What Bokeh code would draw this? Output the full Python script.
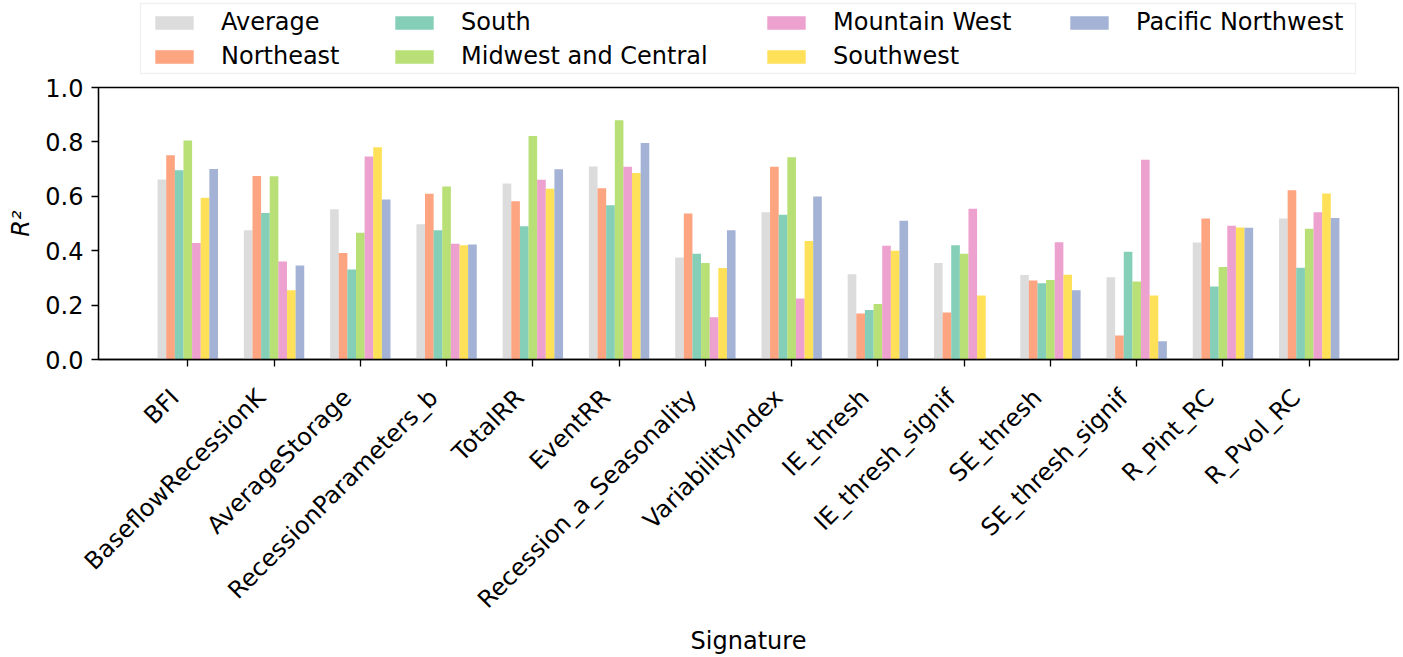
import math
from bokeh.plotting import figure
from bokeh.layouts import column
from bokeh.models import (Range1d, Legend, LegendItem, ColumnDataSource,
                          FixedTicker, LinearAxis, BoxAnnotation)
from bokeh.transform import dodge
from bokeh.embed import file_html
from bokeh.resources import INLINE

signatures = ["BFI", "BaseflowRecessionK", "AverageStorage", "RecessionParameters_b",
              "TotalRR", "EventRR", "Recession_a_Seasonality", "VariabilityIndex",
              "IE_thresh", "IE_thresh_signif", "SE_thresh", "SE_thresh_signif",
              "R_Pint_RC", "R_Pvol_RC"]

average = [0.662, 0.475, 0.552, 0.497, 0.647, 0.710, 0.375, 0.541, 0.313, 0.355, 0.311, 0.302, 0.430, 0.518]
northeast = [0.751, 0.675, 0.392, 0.609, 0.582, 0.630, 0.537, 0.709, 0.169, 0.173, 0.290, 0.088, 0.518, 0.622]
south = [0.696, 0.539, 0.331, 0.475, 0.490, 0.567, 0.389, 0.532, 0.182, 0.420, 0.280, 0.396, 0.268, 0.337]
midwest_central = [0.805, 0.674, 0.466, 0.636, 0.822, 0.880, 0.355, 0.744, 0.204, 0.389, 0.292, 0.287, 0.340, 0.481]
mountain_west = [0.428, 0.360, 0.746, 0.426, 0.661, 0.709, 0.155, 0.224, 0.418, 0.554, 0.431, 0.734, 0.492, 0.541]
southwest = [0.595, 0.255, 0.780, 0.420, 0.628, 0.686, 0.336, 0.436, 0.400, 0.235, 0.312, 0.235, 0.485, 0.610]
pacific_northwest = [0.700, 0.346, 0.588, 0.423, 0.699, 0.796, 0.475, 0.599, 0.510, float("nan"), 0.255, 0.067, 0.484, 0.520]

series_names = ["Average", "Northeast", "South", "Midwest and Central",
                "Mountain West", "Southwest", "Pacific Northwest"]
series_values = [average, northeast, south, midwest_central,
                 mountain_west, southwest, pacific_northwest]
series_colors = ["#d3d3d3", "#fc8d62", "#66c2a5", "#a6d854", "#e78ac3", "#ffd92f", "#8da0cb"]

y_ticks = [0.0, 0.2, 0.4, 0.6, 0.8, 1.0]

FONT = "DejaVu Sans"
FS = "24px"
MARGIN_X = 1.035     # x margin around the first/last group centre
LABEL_SHIFT = 0.15   # shift of the rotated tick labels (group units)
W = 1403
LEG_H = 74
FRAME_L, FRAME_R = 98, 1398

n_sig = len(signatures)
positions = list(range(n_sig))

data = {"signature": signatures, "pos": positions}
for name, vals in zip(series_names, series_values):
    data[name] = vals
source = ColumnDataSource(data)

# ---------------- main chart ----------------
p = figure(
    x_range=Range1d(-MARGIN_X, n_sig - 1 + MARGIN_X),
    y_range=Range1d(0, 1.0),
    width=W, height=657 - LEG_H,
    min_border_left=FRAME_L, min_border_right=W - FRAME_R,
    min_border_top=87 - LEG_H, min_border_bottom=286,
    output_backend="svg", toolbar_location=None,
)
p.extra_x_ranges = {"labels": Range1d(-MARGIN_X + LABEL_SHIFT, n_sig - 1 + MARGIN_X + LABEL_SHIFT)}

n = len(series_names)
bw = 0.1
for i, (name, color) in enumerate(zip(series_names, series_colors)):
    off = (i - (n - 1) / 2) * bw
    p.vbar(x=dodge("pos", off), top=name, width=bw,
           source=source, fill_color=color, fill_alpha=0.8, line_color=None)

p.xgrid.visible = False
p.ygrid.visible = False
p.outline_line_color = "black"
p.outline_line_width = 1.3
p.background_fill_color = "white"
p.border_fill_color = "white"

for ax in (p.xaxis[0], p.yaxis[0]):
    ax.axis_line_color = "black"
    ax.axis_line_width = 1.3
    ax.major_tick_line_color = "black"
    ax.major_tick_line_width = 1.3
    ax.major_tick_out = 7
    ax.major_tick_in = 0
    ax.minor_tick_line_color = None
    ax.major_label_text_font = FONT
    ax.major_label_text_font_size = FS
    ax.major_label_text_color = "black"
    ax.axis_label_text_font = FONT
    ax.axis_label_text_font_size = FS
    ax.axis_label_text_font_style = "normal"
    ax.axis_label_text_color = "black"

p.yaxis[0].ticker = FixedTicker(ticks=y_ticks)
p.yaxis[0].major_label_overrides = {t: f"{t:.1f}" for t in y_ticks}
p.yaxis[0].axis_label = "R²"
p.yaxis[0].axis_label_text_font_style = "italic"
p.yaxis[0].major_label_standoff = 8
p.yaxis[0].axis_label_standoff = 7

# main x axis: tick marks only (labels not drawn)
p.xaxis[0].ticker = FixedTicker(ticks=positions)
p.xaxis[0].major_label_text_font_size = "1px"
p.xaxis[0].major_label_text_color = None
p.xaxis[0].major_label_standoff = 0

# label axis: rotated signature names
lab_axis = LinearAxis(
    x_range_name="labels",
    ticker=FixedTicker(ticks=positions),
    major_label_overrides={pos: s for pos, s in zip(positions, signatures)},
    major_label_orientation=math.pi / 4,
    major_label_standoff=27,
    major_label_text_font=FONT, major_label_text_font_size=FS, major_label_text_color="black",
    major_tick_out=0, major_tick_in=0, minor_tick_out=0, minor_tick_in=0,
    major_tick_line_color=None, minor_tick_line_color=None, axis_line_color=None,
    axis_label="Signature", axis_label_standoff=0,
    axis_label_text_font=FONT, axis_label_text_font_size=FS,
    axis_label_text_font_style="normal", axis_label_text_color="black",
)
p.add_layout(lab_axis, "below")

# ---------------- legend strip (frame aligned with the chart frame) ----------------
lf = figure(
    x_range=Range1d(FRAME_L, FRAME_R), y_range=Range1d(0, LEG_H),
    width=W, height=LEG_H, min_border=0,
    x_axis_location=None, y_axis_location=None,
    output_backend="svg", toolbar_location=None,
)
lf.xgrid.visible = False
lf.ygrid.visible = False
lf.outline_line_color = None
lf.background_fill_color = "white"
lf.border_fill_color = "white"

# zero-height proxies that only carry the legend swatch styles
leg_renderers = []
for name, color in zip(series_names, series_colors):
    r = lf.vbar(x=[FRAME_L], top=[0], bottom=[0], width=1,
                fill_color=color, fill_alpha=0.8, line_color=None)
    leg_renderers.append(r)

lf.add_layout(BoxAnnotation(left=140, right=1355, bottom=LEG_H - 73, top=LEG_H - 3,
                            fill_color="white", fill_alpha=0.8,
                            line_color="#cccccc", line_width=1.3))

legend_columns = [[0, 1], [2, 3], [4, 5], [6]]
legend_x = [150, 390, 762, 1065]
for idxs, x0 in zip(legend_columns, legend_x):
    items = [LegendItem(label=series_names[k], renderers=[leg_renderers[k]]) for k in idxs]
    rows = len(idxs)
    h = rows * 28 + (rows - 1) * 6
    lg = Legend(
        items=items, orientation="vertical",
        location=(x0 - FRAME_L, LEG_H - 8 - h),
        label_text_font=FONT, label_text_font_size=FS, label_text_color="black",
        glyph_width=48, glyph_height=17, label_standoff=23,
        spacing=6, padding=0, margin=0,
        border_line_color=None, background_fill_alpha=0.0,
    )
    lf.add_layout(lg, "center")

open("out.html", "w").write(file_html(column(lf, p), INLINE))
